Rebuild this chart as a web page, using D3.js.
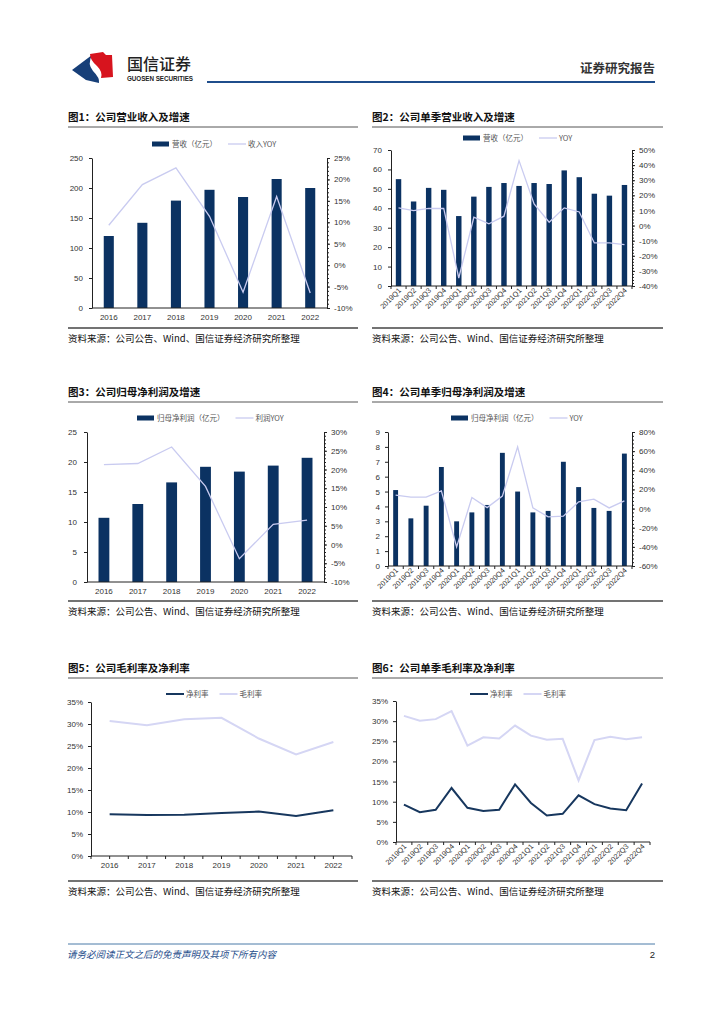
<!DOCTYPE html>
<html lang="zh">
<head>
  <meta charset="utf-8" />
  <title>国信证券 - 财务图表</title>
  <script src="https://cdn.jsdelivr.net/npm/d3@7"></script>
  <style>
    body { margin: 0; background: #fff; }
  </style>
</head>
<body>
  <script>
    // chart data
    var years = ["2016", "2017", "2018", "2019", "2020", "2021", "2022"];
    var quarters = ["2019Q1", "2019Q2", "2019Q3", "2019Q4", "2020Q1", "2020Q2", "2020Q3", "2020Q4",
      "2021Q1", "2021Q2", "2021Q3", "2021Q4", "2022Q1", "2022Q2", "2022Q3", "2022Q4"];

    var revenue = [120, 142, 179, 197, 185, 215, 200];
    var revenueYoy = [9.3, 18.8, 22.7, 11.4, -6.3, 16.0, -6.5];

    var qRevenue = [55, 43.5, 50.5, 49.5, 36, 46, 51, 53, 51.5, 53, 52.5, 59.5, 56, 47.5, 46.5, 52];
    var qRevenueYoy = [11.7, 9.9, 11.3, 11.3, -34.7, 5.5, 1.1, 6.2, 43, 14.3, 2.2, 11.7, 9, -11.5, -11.5, -12.6];

    var netProfit = [10.7, 13.0, 16.6, 19.2, 18.4, 19.4, 20.7];
    var netProfitYoy = [21.3, 21.6, 26.0, 15.5, -3.8, 5.4, 6.5];

    var qNetProfit = [5.1, 3.2, 4.05, 6.65, 3.0, 3.6, 4.1, 7.6, 5.0, 3.6, 3.7, 7.0, 5.3, 3.9, 3.7, 7.55];
    var qNetProfitYoy = [14, 12, 12, 18.5, -40, 11.5, 1, 13, 64.5, 0.7, -8.7, -8, 7, 9.8, 0.7, 8];

    var netMargin = [9.5, 9.3, 9.4, 9.75, 10.1, 9.1, 10.4];
    var grossMargin = [30.7, 29.7, 31.1, 31.4, 26.7, 23.1, 25.9];

    var qNetMargin = [9.3, 7.4, 8.0, 13.4, 8.5, 7.7, 8.0, 14.3, 9.7, 6.6, 7.0, 11.6, 9.4, 8.3, 7.9, 14.5];
    var qGrossMargin = [31.3, 30.1, 30.5, 32.5, 23.9, 26.0, 25.7, 28.9, 26.4, 25.4, 25.6, 15.3, 25.3, 26.1, 25.5, 26.0];

    var source = "资料来源：公司公告、Wind、国信证券经济研究所整理";

    var CJK = "'Noto Sans CJK SC', sans-serif";
    var NUM = "'Liberation Sans', Arial, sans-serif";
    var BAR = "#0b3262";
    var LIGHT = "#c9cbf0";
    var DARK = "#17375e";

    var svg = d3.select("body").append("svg").attr("width", 724).attr("height", 1024);

    // ---- page header ----
    var logo = svg.append("g");
    logo.append("path")
      .attr("d", "M72,70 L92,55 Q87,64 93,71 Q100,78 99,83 L86,80 Z")
      .attr("fill", "#173f78");
    logo.append("path")
      .attr("d", "M90,54 L103,52 L106,55 L112,55 L113,77 L101,78 Q103,72 97,66 Q90,60 90,54 Z")
      .attr("fill", "#d7141e");
    svg.append("text").attr("x", 127).attr("y", 70).text("国信证券")
      .attr("font-family", CJK).attr("font-size", 16).attr("font-weight", 500).attr("fill", "#222");
    svg.append("text").attr("x", 127).attr("y", 81).text("GUOSEN SECURITIES")
      .attr("font-family", NUM).attr("font-size", 6.3).attr("font-weight", "bold")
      .attr("textLength", 66).attr("fill", "#222");
    svg.append("line").attr("x1", 207).attr("x2", 655).attr("y1", 82).attr("y2", 82)
      .attr("stroke", "#1f4e8c").attr("stroke-width", 2);
    svg.append("text").attr("x", 655).attr("y", 73).attr("text-anchor", "end").text("证券研究报告")
      .attr("font-family", CJK).attr("font-size", 12.5).attr("font-weight", "bold").attr("fill", "#333");

    // ---- page footer ----
    svg.append("line").attr("x1", 68).attr("x2", 655).attr("y1", 944).attr("y2", 944)
      .attr("stroke", "#4a7aa8").attr("stroke-width", 1);
    svg.append("text").attr("x", 67).attr("y", 958).text("请务必阅读正文之后的免责声明及其项下所有内容")
      .attr("font-family", CJK).attr("font-size", 9.5).attr("font-style", "italic").attr("fill", "#1f4e8c");
    svg.append("text").attr("x", 655).attr("y", 958).attr("text-anchor", "end").text("2")
      .attr("font-family", NUM).attr("font-size", 9.5).attr("fill", "#222");

    // title, rules and source note of one panel
    function frame(p) {
      svg.append("text").attr("x", p.x0).attr("y", p.titleY).text(p.title)
        .attr("font-family", CJK).attr("font-size", 10.5).attr("font-weight", 600).attr("fill", "#111");
      svg.append("line").attr("x1", p.x0).attr("x2", p.x1).attr("y1", p.titleY + 6).attr("y2", p.titleY + 6)
        .attr("stroke", "#555").attr("stroke-width", 1);
      svg.append("line").attr("x1", p.x0).attr("x2", p.x1).attr("y1", p.sepY).attr("y2", p.sepY)
        .attr("stroke", "#444").attr("stroke-width", 1.3);
      svg.append("text").attr("x", p.x0).attr("y", p.sepY + 14).text(source)
        .attr("font-family", CJK).attr("font-size", 9.5).attr("fill", "#111");
    }

    function legend(items, x, y) {
      var cx = x;
      items.forEach(function(it) {
        if (it.type == "bar") {
          svg.append("rect").attr("x", cx).attr("y", y - 2.5).attr("width", 17).attr("height", 5).attr("fill", it.color);
        } else {
          svg.append("line").attr("x1", cx).attr("x2", cx + 18).attr("y1", y).attr("y2", y)
            .attr("stroke", it.color).attr("stroke-width", it.width);
        }
        var t = svg.append("text").attr("x", cx + 20).attr("y", y + 3).text(it.label)
          .attr("font-family", CJK).attr("font-size", 7.5).attr("fill", "#555");
        cx += 20 + t.node().getComputedTextLength() + 11;
      });
    }

    function styleAxis(g, size) {
      g.selectAll("text").attr("font-family", NUM).attr("font-size", size || 8).attr("fill", "#333");
      g.selectAll("path,line").attr("stroke", "#222");
    }

    function xLabels(g, x, cats, y, rotate) {
      var t = g.selectAll(null).data(cats).enter().append("text")
        .attr("font-family", NUM).attr("font-size", rotate ? 7.3 : 8).attr("fill", "#333")
        .text(function(d) { return d; });
      if (rotate) {
        t.attr("text-anchor", "end")
          .attr("transform", function(d) {
            return "translate(" + (x(d) + x.bandwidth() / 2 + 3) + "," + (y + 5) + ") rotate(-45)";
          });
      } else {
        t.attr("text-anchor", "middle").attr("x", function(d) { return x(d) + x.bandwidth() / 2; })
          .attr("y", y + 12);
      }
    }

    function pct(d) { return d + "%"; }

    // bars on the left axis, growth line on the right axis
    function combo(p) {
      frame(p);
      legend(p.legend, p.legX, p.legY);
      var g = svg.append("g");
      var x = d3.scaleBand().domain(p.cats).range([p.left, p.right]);
      var y = d3.scaleLinear().domain(p.yDom).range([p.bottom, p.top]);
      var y2 = d3.scaleLinear().domain(p.y2Dom).range([p.bottom, p.top]);
      var bw = x.bandwidth() * p.barFrac;

      g.selectAll(".bar").data(p.bars).enter().append("rect")
        .attr("x", function(d, i) { return x(p.cats[i]) + (x.bandwidth() - bw) / 2; })
        .attr("y", function(d) { return y(d); })
        .attr("width", bw)
        .attr("height", function(d) { return y(0) - y(d); })
        .attr("fill", BAR);

      var line = d3.line()
        .x(function(d, i) { return x(p.cats[i]) + x.bandwidth() / 2; })
        .y(function(d) { return y2(d); });
      g.append("path").attr("d", line(p.line)).attr("fill", "none")
        .attr("stroke", LIGHT).attr("stroke-width", 1.3);

      var ay = g.append("g").attr("transform", "translate(" + p.left + ",0)")
        .call(d3.axisLeft(y).tickValues(d3.range(p.yDom[0], p.yDom[1] + 0.001, p.yStep))
          .tickSize(3).tickSizeOuter(0).tickPadding(p.lPad));
      styleAxis(ay);

      var ay2m = g.append("g").attr("transform", "translate(" + p.right + ",0)")
        .call(d3.axisRight(y2).tickValues(d3.range(p.y2Dom[0], p.y2Dom[1] + 0.001, p.y2Step / 5))
          .tickSize(2).tickSizeOuter(0).tickFormat(""));
      styleAxis(ay2m);
      var ay2 = g.append("g").attr("transform", "translate(" + p.right + ",0)")
        .call(d3.axisRight(y2).tickValues(d3.range(p.y2Dom[0], p.y2Dom[1] + 0.001, p.y2Step))
          .tickSize(3).tickSizeOuter(0).tickPadding(4).tickFormat(pct));
      styleAxis(ay2);

      g.append("line").attr("x1", p.left).attr("x2", p.right).attr("y1", p.bottom).attr("y2", p.bottom)
        .attr("stroke", "#222");
      if (p.rotate) {
        g.selectAll(".xt").data(p.cats.concat(["end"])).enter().append("line")
          .attr("x1", function(d, i) { return p.left + i * x.step(); })
          .attr("x2", function(d, i) { return p.left + i * x.step(); })
          .attr("y1", p.bottom).attr("y2", p.bottom + 3).attr("stroke", "#222");
      }
      xLabels(g, x, p.cats, p.bottom, p.rotate);
    }

    // two margin lines on a percent axis
    function margins(p) {
      frame(p);
      legend(p.legend, p.legX, p.legY);
      var g = svg.append("g");
      var x = d3.scaleBand().domain(p.cats).range([p.left, p.right]);
      var y = d3.scaleLinear().domain([0, 35]).range([p.bottom, p.top]);
      var line = d3.line()
        .x(function(d, i) { return x(p.cats[i]) + x.bandwidth() / 2; })
        .y(function(d) { return y(d); });

      var ay = g.append("g").attr("transform", "translate(" + p.left + ",0)")
        .call(d3.axisLeft(y).tickValues(d3.range(0, 35.1, 5)).tickSize(3).tickSizeOuter(0)
          .tickPadding(5).tickFormat(pct));
      styleAxis(ay);
      g.append("line").attr("x1", p.left).attr("x2", p.right).attr("y1", p.bottom).attr("y2", p.bottom)
        .attr("stroke", "#222");
      var half = p.rotate ? 1 : 2;
      g.selectAll(".xt").data(d3.range(p.cats.length * half + 1)).enter().append("line")
        .attr("x1", function(d) { return p.left + d * x.step() / half; })
        .attr("x2", function(d) { return p.left + d * x.step() / half; })
        .attr("y1", p.bottom).attr("y2", p.bottom + 3).attr("stroke", "#222");

      g.append("path").attr("d", line(p.gross)).attr("fill", "none")
        .attr("stroke", "#d5d6f4").attr("stroke-width", 2);
      g.append("path").attr("d", line(p.net)).attr("fill", "none")
        .attr("stroke", DARK).attr("stroke-width", 2);
      xLabels(g, x, p.cats, p.bottom, p.rotate);
    }

    combo({
      title: "图1：公司营业收入及增速", x0: 68, x1: 358, titleY: 121, sepY: 328,
      legend: [{ type: "bar", color: BAR, label: "营收（亿元）" }, { type: "line", color: LIGHT, width: 1.3, label: "收入YOY" }],
      legX: 152, legY: 144,
      cats: years, bars: revenue, line: revenueYoy,
      left: 92, right: 327, top: 158, bottom: 308,
      yDom: [0, 250], yStep: 50, y2Dom: [-10, 25], y2Step: 5, lPad: 6, barFrac: 0.3, rotate: false
    });

    combo({
      title: "图2：公司单季营业收入及增速", x0: 372, x1: 663, titleY: 121, sepY: 328,
      legend: [{ type: "bar", color: BAR, label: "营收（亿元）" }, { type: "line", color: LIGHT, width: 1.3, label: "YOY" }],
      legX: 463, legY: 138,
      cats: quarters, bars: qRevenue, line: qRevenueYoy,
      left: 391, right: 632, top: 150, bottom: 286,
      yDom: [0, 70], yStep: 10, y2Dom: [-40, 50], y2Step: 10, lPad: 6, barFrac: 0.36, rotate: true
    });

    combo({
      title: "图3：公司归母净利润及增速", x0: 68, x1: 358, titleY: 396, sepY: 601,
      legend: [{ type: "bar", color: BAR, label: "归母净利润（亿元）" }, { type: "line", color: LIGHT, width: 1.3, label: "利润YOY" }],
      legX: 137, legY: 418,
      cats: years, bars: netProfit, line: netProfitYoy,
      left: 87, right: 324, top: 432, bottom: 582,
      yDom: [0, 25], yStep: 5, y2Dom: [-10, 30], y2Step: 5, lPad: 7, barFrac: 0.32, rotate: false
    });

    combo({
      title: "图4：公司单季归母净利润及增速", x0: 372, x1: 663, titleY: 396, sepY: 601,
      legend: [{ type: "bar", color: BAR, label: "归母净利润（亿元）" }, { type: "line", color: LIGHT, width: 1.3, label: "YOY" }],
      legX: 451, legY: 418,
      cats: quarters, bars: qNetProfit, line: qNetProfitYoy,
      left: 388, right: 632, top: 432, bottom: 566,
      yDom: [0, 9], yStep: 1, y2Dom: [-60, 80], y2Step: 20, lPad: 5, barFrac: 0.32, rotate: true
    });

    margins({
      title: "图5：公司毛利率及净利率", x0: 68, x1: 358, titleY: 672, sepY: 881,
      legend: [{ type: "line", color: DARK, width: 2, label: "净利率" }, { type: "line", color: "#d5d6f4", width: 2, label: "毛利率" }],
      legX: 166, legY: 694,
      cats: years, net: netMargin, gross: grossMargin,
      left: 91, right: 352, top: 702, bottom: 856, rotate: false
    });

    margins({
      title: "图6：公司单季毛利率及净利率", x0: 372, x1: 663, titleY: 672, sepY: 881,
      legend: [{ type: "line", color: DARK, width: 2, label: "净利率" }, { type: "line", color: "#d5d6f4", width: 2, label: "毛利率" }],
      legX: 470, legY: 694,
      cats: quarters, net: qNetMargin, gross: qGrossMargin,
      left: 396, right: 650, top: 701, bottom: 842, rotate: true
    });
  </script>
</body>
</html>
